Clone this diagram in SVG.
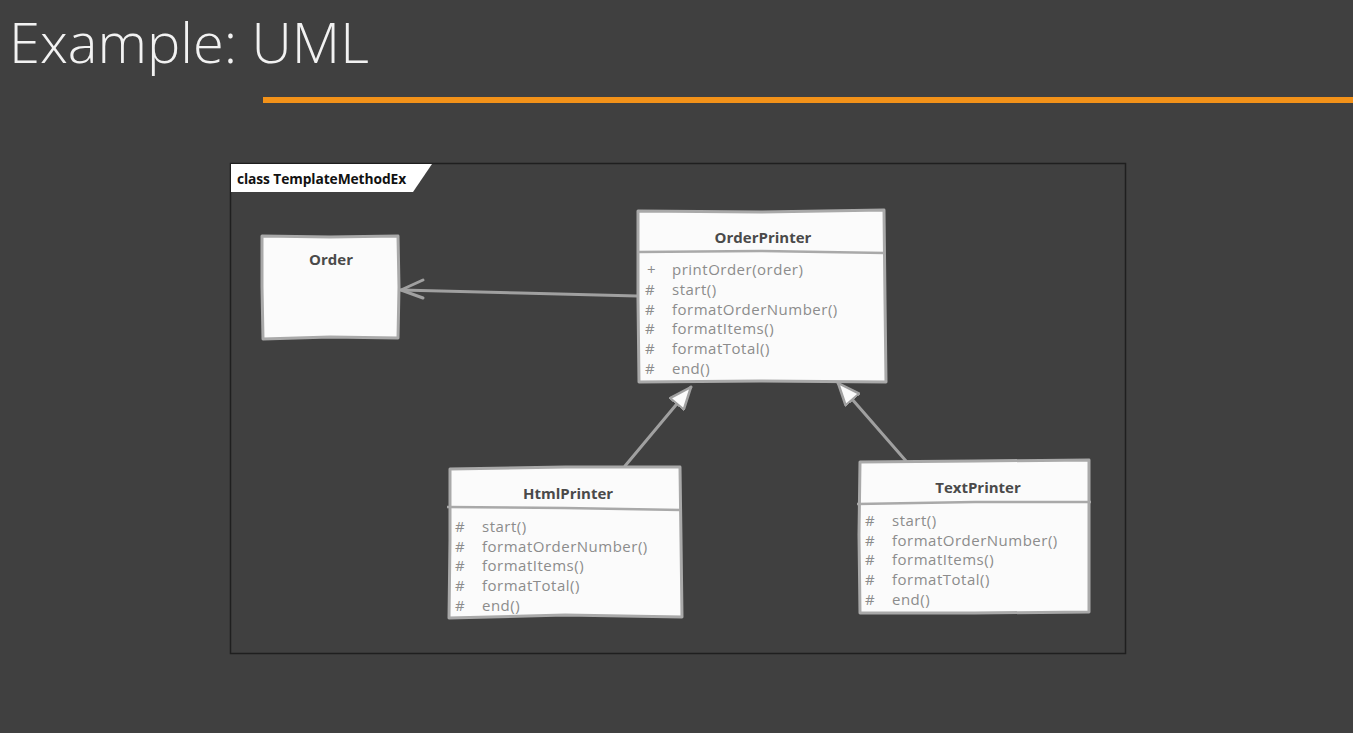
<svg xmlns="http://www.w3.org/2000/svg" width="1353" height="733" viewBox="0 0 1353 733">
<defs>
<style>
.title{font-family:"Open Sans",sans-serif;font-weight:300;font-size:56px;fill:#f2f2f2}
.tab{font-family:"Open Sans",sans-serif;font-weight:700;font-size:13.8px;fill:#111;letter-spacing:-0.1px}
.box{fill:#fbfbfb;stroke:#a9a9a9;stroke-width:3;stroke-linejoin:round}
.div{stroke:#a9a9a9;stroke-width:2.5;fill:none}
.cname{font-family:"Open Sans",sans-serif;font-weight:700;font-size:15px;fill:#4a4a4a;text-anchor:middle}
.mem{font-family:"Open Sans",sans-serif;font-size:15px;fill:#8c8c8c;letter-spacing:0.5px}
.conn{stroke:#a0a0a0;stroke-width:3;fill:none;stroke-linecap:round;stroke-linejoin:round}
</style>
<marker id="gen" viewBox="0 0 24 20" refX="23" refY="10" markerWidth="24" markerHeight="20" markerUnits="userSpaceOnUse" orient="auto">
<path d="M1,1 L23,10 L1,19 Z" fill="#fbfbfb" stroke="#a0a0a0" stroke-width="2.5" stroke-linejoin="round"/>
</marker>
</defs>
<rect width="1353" height="733" fill="#404040"/>
<text class="title" x="9" y="63">Example: UML</text>
<rect x="263" y="97" width="1090" height="6" fill="#f39219"/>
<g id="frame">
<rect x="230.5" y="163.5" width="895" height="490" fill="none" stroke="#1f1f1f" stroke-width="1.5"/>
<polygon points="231,164 432,164 413,192 231,192" fill="#ffffff"/>
<text class="tab" x="237" y="184">class TemplateMethodEx</text>
</g>
<g id="connectors">
<path class="conn" d="M637,296 L520,293 L401,290"/>
<path class="conn" d="M423,280 L401,290 L423,298"/>
<path class="conn" d="M625,466 L691,387" marker-end="url(#gen)"/>
<path class="conn" d="M906,461 L838,383" marker-end="url(#gen)"/>
</g>
<g id="Order">
<path class="box" d="M262,236 L330,237 L398,236 L399,287 L398,338 L330,337 L263,339 L262,287 Z"/>
<text class="cname" x="331" y="265">Order</text>
</g>
<g id="OrderPrinter">
<path class="box" d="M638,211 L760,212 L884,210 L885,300 L886,382 L760,381 L639,382 L638,300 Z"/>
<path class="div" d="M638,252 L760,251 L885,253"/>
<text class="cname" x="763" y="243">OrderPrinter</text>
<g class="mem">
<text x="647" y="275">+</text><text x="672" y="275">printOrder(order)</text>
<text x="645" y="295">#</text><text x="672" y="295">start()</text>
<text x="645" y="315">#</text><text x="672" y="315">formatOrderNumber()</text>
<text x="645" y="334">#</text><text x="672" y="334">formatItems()</text>
<text x="645" y="354">#</text><text x="672" y="354">formatTotal()</text>
<text x="645" y="374">#</text><text x="672" y="374">end()</text>
</g>
</g>
<g id="HtmlPrinter">
<path class="box" d="M450,469 L565,467 L680,467 L681,540 L682,617 L565,615 L449,618 L450,540 Z"/>
<path class="div" d="M447,507 L565,508 L681,510"/>
<text class="cname" x="568" y="499">HtmlPrinter</text>
<g class="mem">
<text x="455" y="532">#</text><text x="482" y="532">start()</text>
<text x="455" y="552">#</text><text x="482" y="552">formatOrderNumber()</text>
<text x="455" y="571">#</text><text x="482" y="571">formatItems()</text>
<text x="455" y="591">#</text><text x="482" y="591">formatTotal()</text>
<text x="455" y="611">#</text><text x="482" y="611">end()</text>
</g>
</g>
<g id="TextPrinter">
<path class="box" d="M860,462 L975,461 L1089,460 L1089,535 L1089,612 L975,613 L860,613 L859,535 Z"/>
<path class="div" d="M857,504 L975,502 L1091,502"/>
<text class="cname" x="978" y="493">TextPrinter</text>
<g class="mem">
<text x="865" y="526">#</text><text x="892" y="526">start()</text>
<text x="865" y="546">#</text><text x="892" y="546">formatOrderNumber()</text>
<text x="865" y="565">#</text><text x="892" y="565">formatItems()</text>
<text x="865" y="585">#</text><text x="892" y="585">formatTotal()</text>
<text x="865" y="605">#</text><text x="892" y="605">end()</text>
</g>
</g>
</svg>
